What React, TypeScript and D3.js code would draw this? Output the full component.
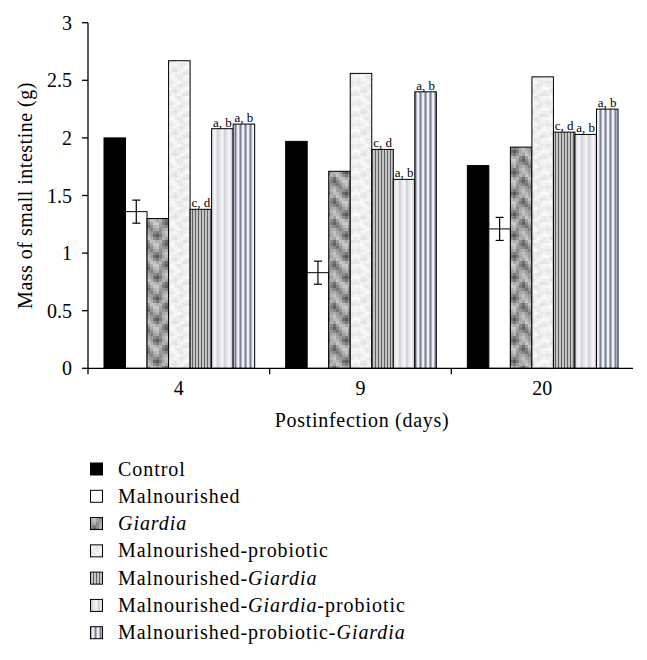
import React from "react";
import * as d3 from "d3";

const days = ["4", "9", "20"];
const seriesNames = [
  "Control",
  "Malnourished",
  "Giardia",
  "Malnourished-probiotic",
  "Malnourished-Giardia",
  "Malnourished-Giardia-probiotic",
  "Malnourished-probiotic-Giardia",
];
const control = [2.0, 1.97, 1.76];
const malnourished = [1.36, 0.83, 1.21];
const malnourishedErr = [0.1, 0.1, 0.1];
const giardia = [1.3, 1.71, 1.92];
const malProbiotic = [2.67, 2.56, 2.53];
const malGiardia = [1.38, 1.9, 2.05];
const malGiardiaProbiotic = [2.08, 1.64, 2.03];
const malProbioticGiardia = [2.12, 2.4, 2.25];
const seriesValues = [control, malnourished, giardia, malProbiotic, malGiardia, malGiardiaProbiotic, malProbioticGiardia];
const seriesErrors = [null, malnourishedErr, null, null, null, null, null];
const seriesNotes = [null, null, null, null, ["c, d", "c, d", "c, d"], ["a, b", "a, b", "a, b"], ["a, b", "a, b", "a, b"]];
const yTicks = [0, 0.5, 1, 1.5, 2, 2.5, 3];

// legend label pieces: [text, italic]
const legendParts: [string, boolean][][] = [
  [["Control", false]],
  [["Malnourished", false]],
  [["Giardia", true]],
  [["Malnourished-probiotic", false]],
  [["Malnourished-", false], ["Giardia", true]],
  [["Malnourished-", false], ["Giardia", true], ["-probiotic", false]],
  [["Malnourished-probiotic-", false], ["Giardia", true]],
];

// texture tiles (style only, 7x7 cells)
const darkMottle = [
  "#a5a5a5", "#9a9a9a", "#8c8c8c", "#7a7a7a", "#8e8e8e", "#b2b2b2", "#c4c4c4",
  "#b8b8b8", "#a0a0a0", "#6e6e6e", "#5a5a5a", "#7c7c7c", "#a6a6a6", "#bcbcbc",
  "#c6c6c6", "#b0b0b0", "#909090", "#787878", "#989898", "#b4b4b4", "#a2a2a2",
  "#9e9e9e", "#c2c2c2", "#bebebe", "#a8a8a8", "#b6b6b6", "#8a8a8a", "#707070",
  "#868686", "#aaaaaa", "#c8c8c8", "#cacaca", "#a4a4a4", "#7e7e7e", "#626262",
  "#747474", "#929292", "#b2b2b2", "#c0c0c0", "#9c9c9c", "#969696", "#888888",
  "#9a9a9a", "#808080", "#a0a0a0", "#aeaeae", "#8a8a8a", "#a8a8a8", "#b0b0b0",
];
const lightMottle = [
  "#eeeeee", "#f2f2f2", "#f6f6f6", "#ebebeb", "#e4e4e4", "#ececec", "#f5f5f5",
  "#f9f9f9", "#efefef", "#e8e8e8", "#f0f0f0", "#ececec", "#f7f7f7", "#fafafa",
  "#f3f3f3", "#e6e6e6", "#e2e2e2", "#ededed", "#f8f8f8", "#f1f1f1", "#e9e9e9",
  "#eaeaea", "#f4f4f4", "#efefef", "#f6f6f6", "#eeeeee", "#e3e3e3", "#e7e7e7",
  "#f5f5f5", "#fbfbfb", "#f0f0f0", "#e5e5e5", "#ebebeb", "#f2f2f2", "#f7f7f7",
  "#ededed", "#f3f3f3", "#f8f8f8", "#eeeeee", "#e8e8e8", "#f4f4f4", "#f1f1f1",
  "#e6e6e6", "#eaeaea", "#f2f2f2", "#fafafa", "#f0f0f0", "#e9e9e9", "#eeeeee",
];

const W = 647;
const H = 660;
const plot = { left: 88, right: 633, top: 22.7, bottom: 368.3 };
const font = "'Liberation Serif', 'Times New Roman', serif";

function Mottle({ id, colors }: { id: string; colors: string[] }) {
  const c = 3;
  const n = 7;
  return (
    <pattern id={id} patternUnits="userSpaceOnUse" width={c * n} height={c * n}>
      {colors.map((col, i) => (
        <rect key={i} x={(i % n) * c} y={Math.floor(i / n) * c} width={c} height={c} fill={col} />
      ))}
    </pattern>
  );
}

export default function App() {
  const x0 = d3.scaleBand<string>().domain(days).range([plot.left, plot.right]).padding(0);
  const x1 = d3
    .scaleBand<number>()
    .domain(d3.range(seriesNames.length))
    .range([16, x0.bandwidth() - 15]);
  const y = d3.scaleLinear().domain([0, 3]).range([plot.bottom, plot.top]);
  const fills = [
    "#000000",
    "#ffffff",
    "url(#pGiardia)",
    "url(#pMalPro)",
    "url(#pMalGia)",
    "url(#pMGP)",
    "url(#pMPG)",
  ];
  const bw = x1.bandwidth();
  const legendY = d3.scaleLinear().domain([0, 6]).range([469, 632.7]);

  return (
    <svg width={W} height={H} style={{ position: "absolute", left: 0, top: 0, background: "#fff" }} fontFamily={font}>
      <defs>
        <Mottle id="pGiardia" colors={darkMottle} />
        <Mottle id="pMalPro" colors={lightMottle} />
        <pattern id="pMalGia" patternUnits="userSpaceOnUse" width={3} height={10}>
          <rect width={3} height={10} fill="#c4c4c4" />
          <rect x={0} width={1} height={10} fill="#5e5e5e" />
        </pattern>
        <pattern id="pMGP" patternUnits="userSpaceOnUse" width={7} height={10}>
          <rect width={7} height={10} fill="#e6e6ea" />
          <rect x={0} width={2} height={10} fill="#d4d4da" />
          <rect x={4} width={2} height={10} fill="#f4f4f6" />
        </pattern>
        <pattern id="pMPG" patternUnits="userSpaceOnUse" width={5} height={10}>
          <rect width={5} height={10} fill="#dfe1ea" />
          <rect x={0} width={1.5} height={10} fill="#7c8195" />
          <rect x={2.5} width={1} height={10} fill="#ffffff" />
          <rect x={4} width={1} height={10} fill="#aeb2c2" />
        </pattern>
      </defs>

      {/* bars */}
      {days.map((d, di) => (
        <g key={d}>
          {seriesValues.map((vals, si) => {
            const bx = (x0(d) as number) + (x1(si) as number);
            const by = y(vals[di]);
            return (
              <rect
                key={si}
                x={bx}
                y={by}
                width={bw}
                height={y(0) - by}
                fill={fills[si]}
                stroke="#000"
                strokeWidth={1}
              />
            );
          })}
          {seriesValues.map((vals, si) => {
            const err = seriesErrors[si];
            if (!err) return null;
            const cx = (x0(d) as number) + (x1(si) as number) + bw / 2;
            const hi = y(vals[di] + err[di]);
            const lo = y(vals[di] - err[di]);
            return (
              <g key={"e" + si} stroke="#000" strokeWidth={1.2}>
                <line x1={cx} x2={cx} y1={hi} y2={lo} />
                <line x1={cx - 4} x2={cx + 4} y1={hi} y2={hi} />
                <line x1={cx - 4} x2={cx + 4} y1={lo} y2={lo} />
              </g>
            );
          })}
          {seriesValues.map((vals, si) => {
            const notes = seriesNotes[si];
            if (!notes) return null;
            const cx = (x0(d) as number) + (x1(si) as number) + bw / 2;
            return (
              <text key={"n" + si} x={cx} y={y(vals[di]) - 2} fontSize={13} textAnchor="middle" fill="#000">
                {notes[di]}
              </text>
            );
          })}
        </g>
      ))}

      {/* axes */}
      <g stroke="#000" strokeWidth={1.3} fill="none">
        <line x1={plot.left} x2={plot.left} y1={plot.top} y2={plot.bottom + 6} />
        <line x1={plot.left} x2={plot.right} y1={plot.bottom} y2={plot.bottom} />
        {yTicks.map((t) => (
          <line key={t} x1={plot.left - 6} x2={plot.left} y1={y(t)} y2={y(t)} />
        ))}
        {days.slice(1).map((d) => (
          <line key={d} x1={x0(d)} x2={x0(d)} y1={plot.bottom} y2={plot.bottom + 6} />
        ))}
      </g>
      {yTicks.map((t) => (
        <text key={t} x={plot.left - 16} y={y(t)} dy="0.35em" fontSize={20} textAnchor="end" fill="#000">
          {String(t)}
        </text>
      ))}
      {days.map((d) => (
        <text key={d} x={(x0(d) as number) + x0.bandwidth() / 2} y={395} fontSize={20} textAnchor="middle" fill="#000">
          {d}
        </text>
      ))}
      <text x={362} y={427} fontSize={20} letterSpacing={0.7} textAnchor="middle" fill="#000">
        Postinfection (days)
      </text>
      <text
        transform={`translate(32, ${(plot.top + plot.bottom) / 2}) rotate(-90)`}
        fontSize={20}
        letterSpacing={0.5}
        textAnchor="middle"
        fill="#000"
      >
        Mass of small intestine (g)
      </text>

      {/* legend */}
      {seriesNames.map((name, i) => (
        <g key={name}>
          <rect x={90.5} y={legendY(i) - 6} width={12} height={12} fill={fills[i]} stroke="#000" strokeWidth={1} />
          <text x={118} y={legendY(i) + 6.5} fontSize={20} letterSpacing={0.95} fill="#000">
            {legendParts[i].map(([t, it], k) => (
              <tspan key={k} fontStyle={it ? "italic" : "normal"}>
                {t}
              </tspan>
            ))}
          </text>
        </g>
      ))}
    </svg>
  );
}
